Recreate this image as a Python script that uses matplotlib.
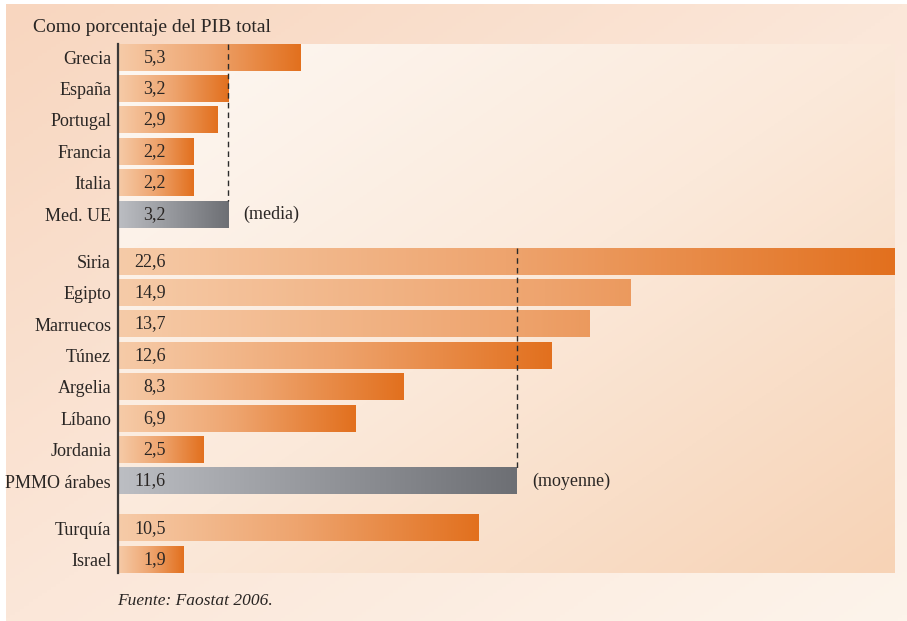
import numpy as np
import matplotlib
matplotlib.use('Agg')
import matplotlib.pyplot as plt
from matplotlib.colors import LinearSegmentedColormap

# Datos: porcentaje del PIB total
paises_ue = ['Grecia', 'España', 'Portugal', 'Francia', 'Italia']
valores_ue = [5.3, 3.2, 2.9, 2.2, 2.2]
media_ue = 3.2
paises_arabes = ['Siria', 'Egipto', 'Marruecos', 'Túnez', 'Argelia', 'Líbano', 'Jordania']
valores_arabes = [22.6, 14.9, 13.7, 12.6, 8.3, 6.9, 2.5]
media_arabes = 11.6
otros_paises = ['Turquía', 'Israel']
valores_otros = [10.5, 1.9]

plt.rcParams['font.family'] = ['Liberation Serif', 'DejaVu Serif']
color_texto = '#2a2624'

# Orden de las filas, con separación entre grupos
etiquetas = paises_ue + ['Med. UE'] + paises_arabes + ['PMMO árabes'] + otros_paises
valores = valores_ue + [media_ue] + valores_arabes + [media_arabes] + valores_otros
es_media = [False] * len(paises_ue) + [True] + [False] * len(paises_arabes) + [True] + [False] * len(otros_paises)
pos = list(range(6)) + list(np.arange(8) + 6.5) + [15, 16]
alto = 0.85
fin_claro = {'Egipto', 'Marruecos'}

cmap_naranja = LinearSegmentedColormap.from_list('nar', ['#f6cba8', '#eea46e', '#e2701e'])
cmap_gris = LinearSegmentedColormap.from_list('gris', ['#bcbec3', '#6d6f74'])
cmap_fondo = LinearSegmentedColormap.from_list('fondo', ['#fdf8f3', '#fbe9da', '#f7d3b6'])
cmap_marco = LinearSegmentedColormap.from_list('marco', ['#f8d6bf', '#fbe7d9', '#fdf4eb'])

fig = plt.figure(figsize=(9.07, 6.21), dpi=100)

# Fondo exterior con degradado
ax_bg = fig.add_axes([6 / 907, 0, 1 - 6 / 907, 1 - 4 / 621], zorder=-5)
xx, yy = np.meshgrid(np.linspace(0, 1, 200), np.linspace(0, 1, 200))
ax_bg.imshow((xx + yy) / 2, cmap=cmap_marco, aspect='auto', extent=[0, 1, 0, 1], origin='upper')
ax_bg.axis('off')

ax = fig.add_axes([118 / 907, 1 - 573 / 621, (895 - 118) / 907, (573 - 44) / 621])
ax.patch.set_alpha(0)
xmax = max(valores)
y0, y1 = -0.42, 16.43

# Fondo interior con degradado diagonal
ax.imshow((xx + yy) / 2, cmap=cmap_fondo, aspect='auto', extent=[0, xmax, y1, y0], origin='upper', zorder=0)

grad = np.linspace(0, 1, 256).reshape(1, -1)
for y, v, lab, m in zip(pos, valores, etiquetas, es_media):
    cmap = cmap_gris if m else cmap_naranja
    fin = 0.6 if lab in fin_claro else 1.0
    ax.imshow(grad * fin, cmap=cmap, vmin=0, vmax=1, aspect='auto',
              extent=[0, v, y + alto / 2, y - alto / 2], zorder=2)
    ax.annotate(f'{v:.1f}'.replace('.', ','), xy=(0, y), xytext=(34.5, 0),
                textcoords='offset points', ha='right', va='center',
                fontsize=13, color=color_texto, zorder=4)

# Líneas de las medias
ax.vlines(media_ue, pos[0] - alto / 2, pos[5] - alto / 2, colors='#2b2b2b',
          linestyles=(0, (4, 3)), lw=1, zorder=3)
ax.vlines(media_arabes, pos[6] - alto / 2, pos[13] - alto / 2, colors='#2b2b2b',
          linestyles=(0, (4, 3)), lw=1, zorder=3)
ax.annotate('(media)', xy=(media_ue, pos[5]), xytext=(11, 0), textcoords='offset points',
            ha='left', va='center', fontsize=13, color=color_texto)
ax.annotate('(moyenne)', xy=(media_arabes, pos[13]), xytext=(11, 0), textcoords='offset points',
            ha='left', va='center', fontsize=13, color=color_texto)

ax.set_xlim(0, xmax)
ax.set_ylim(y1, y0)
ax.set_yticks(pos)
ax.set_yticklabels(etiquetas, fontsize=13, color=color_texto)
ax.tick_params(axis='y', length=0, pad=5)
ax.set_xticks([])
for lado in ['top', 'right', 'bottom']:
    ax.spines[lado].set_visible(False)
ax.spines['left'].set_color('#3c3a39')
ax.spines['left'].set_linewidth(1.6)
ax.spines['left'].set_zorder(5)

fig.text(33 / 907, 1 - 27 / 621, 'Como porcentaje del PIB total', fontsize=14,
         color=color_texto, va='center', ha='left')
fig.text(117 / 907, 1 - 601 / 621, 'Fuente: Faostat 2006.', fontsize=12.5,
         style='italic', color=color_texto, va='center', ha='left')

fig.savefig('out.png', dpi=100)
